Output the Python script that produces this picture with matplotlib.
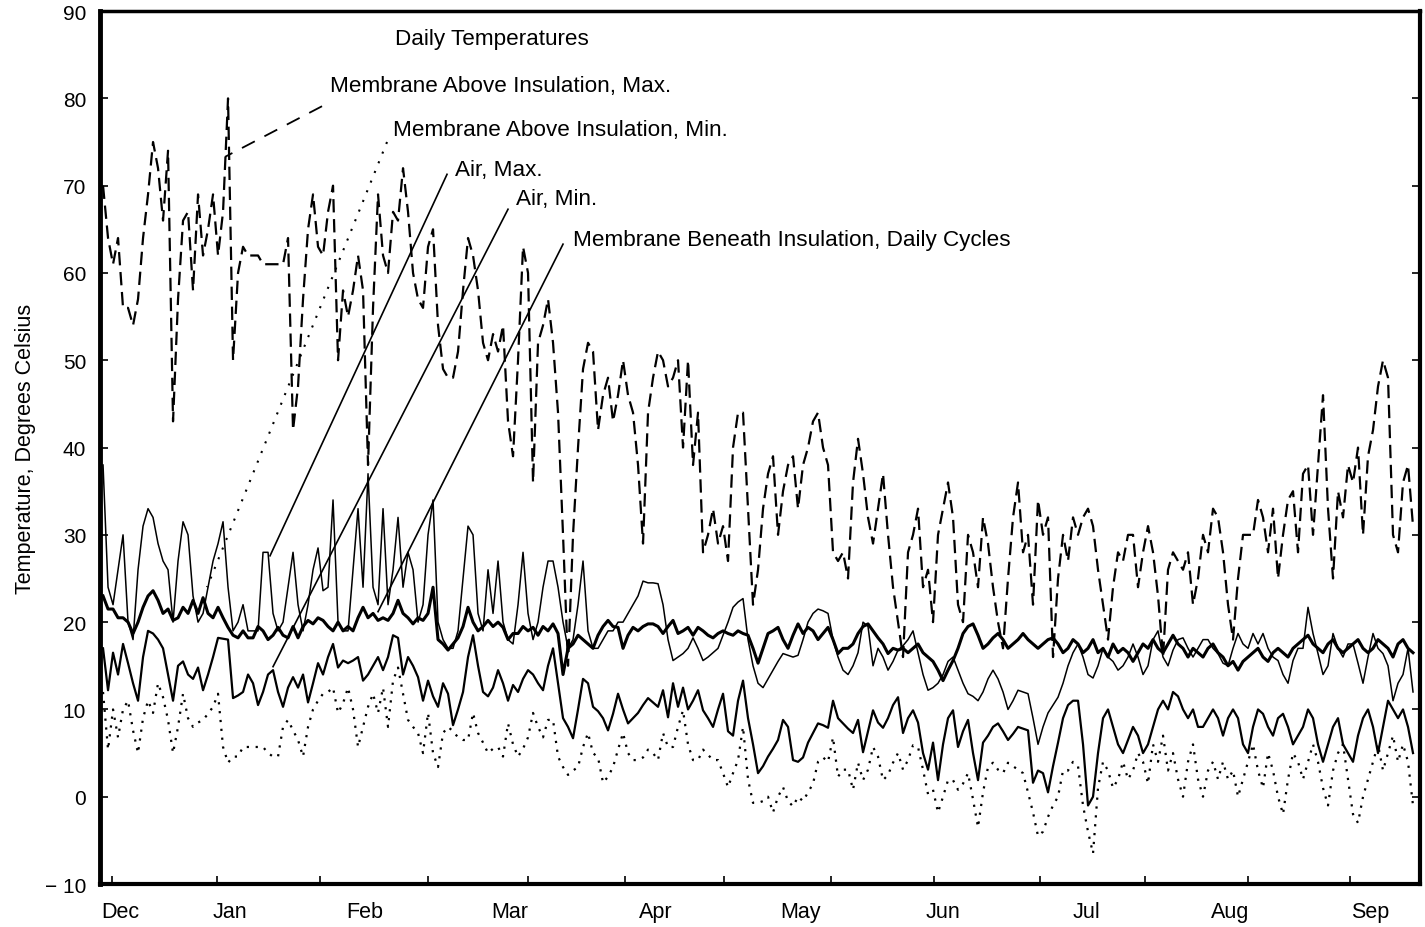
import numpy as np
import matplotlib.pyplot as plt

plt.rcParams['font.family'] = ['Liberation Sans', 'DejaVu Sans']

# daily readings, mid December to late September
roof_max = [70, 64, 61, 64, 56, 56, 54, 57, 64, 69,
            75, 72, 66, 74, 43, 57, 66, 67, 58, 69,
            62, 65, 69, 62, 67, 80, 50, 60, 63, 62,
            62, 62, 61, 61, 61, 61, 61, 64, 42, 47,
            57, 65, 69, 63, 62, 67, 70, 50, 58, 55,
            58, 62, 58, 38, 56, 69, 62, 60, 67, 66,
            72, 67, 60, 57, 56, 63, 65, 54, 49, 48,
            48, 51, 58, 64, 62, 58, 52, 50, 53, 51,
            54, 43, 39, 50, 63, 60, 36, 52, 54, 57,
            52, 44, 30, 15, 30, 40, 49, 52, 51, 42,
            46, 48, 43, 46, 50, 46, 44, 38, 29, 44,
            48, 51, 50, 47, 48, 50, 40, 50, 38, 44,
            28, 30, 33, 29, 31, 27, 40, 44, 44, 33,
            22, 26, 33, 37, 39, 30, 35, 38, 39, 33,
            38, 40, 43, 44, 40, 38, 28, 27, 28, 25,
            36, 41, 37, 32, 29, 33, 37, 30, 24, 20,
            16, 28, 30, 33, 24, 26, 20, 30, 33, 36,
            32, 22, 20, 30, 28, 24, 32, 29, 24, 20,
            17, 25, 32, 36, 28, 30, 22, 34, 30, 32,
            16, 25, 30, 27, 32, 30, 32, 33, 31, 26,
            22, 18, 24, 28, 27, 30, 30, 24, 28, 31,
            28, 23, 16, 26, 28, 27, 26, 28, 22, 25,
            30, 28, 33, 32, 28, 22, 18, 25, 30, 30,
            30, 34, 32, 28, 33, 25, 30, 34, 35, 28,
            37, 38, 30, 38, 46, 33, 25, 35, 32, 38,
            36, 40, 30, 39, 42, 47, 50, 48, 30, 28,
            36, 38, 31]

roof_min = [12, 5.4, 10, 6.8, 10, 11, 7.6, 5, 9, 11,
            9.6, 13, 11.4, 8.8, 5, 8, 11.8, 9, 8, 8.5,
            8.8, 9.5, 10.3, 11.8, 5.7, 3.9, 4.6, 4.6, 5.7, 5.7,
            5.7, 5.7, 5.7, 5, 4.6, 4.6, 8, 8.8, 7.6, 6.5,
            4.6, 8, 10, 11, 11.8, 12, 12.5, 9.6, 10.7, 12.5,
            10, 5.7, 8, 10.3, 11.8, 9.6, 12.5, 8, 13.3, 14.8,
            11.8, 8.8, 8, 7.3, 5, 9.6, 5, 3.4, 7.3, 8,
            7.5, 6.8, 6.5, 6.5, 9.6, 7.3, 6.2, 5, 5.5, 5.7,
            4.6, 8.4, 6, 4.6, 5.5, 6.8, 9.6, 8, 6.8, 8.8,
            8.8, 4.6, 3.4, 2.5, 3, 3.4, 5.7, 7.3, 5, 4.5,
            1.6, 2.3, 3.4, 5.4, 7.3, 5, 4.2, 4.2, 4.5, 5.4,
            5, 4.2, 7.3, 5.7, 5.7, 8, 9.9, 6, 4.2, 4.2,
            5.4, 4.8, 4.2, 4.2, 2.7, 1.1, 2.7, 4.2, 8, 2,
            -0.7, -0.7, -0.5, 0, -1.8, 0, 1.1, -0.5, -1.1, 0,
            -0.5, 0.5, 1.5, 4, 4.5, 4, 6.8, 2.3, 3.1, 3.1,
            0.8, 3.9, 1.9, 3.1, 5.7, 4.6, 1.9, 2.5, 3.9, 5,
            3.1, 4.2, 5.9, 5.7, 3.1, 0.3, 0.8, -1.8, 0, 1.9,
            1.9, 0.8, 1.5, 2.7, -0.3, -3.5, 0.5, 3.4, 3.9, 3.1,
            2.7, 3.9, 3.5, 3.1, 2.7, 0.5, -1.8, -4.5, -4, -2.3,
            -1, 0, 3, 3, 4, 3.5, -1, -4, -6.5, 1,
            4, 3, 1, 2, 4, 2, 3, 5, 4, 1.5,
            6, 4, 7, 3, 5, 2, 0, 4, 6, 2,
            0, 3, 4, 2, 4, 2, 3, 0, 2, 4,
            6, 3, 1, 5, 3, 0, -2, 2, 5, 4,
            2, 4, 6, 4, 1, -1, 3, 5, 6, 2,
            -2, -3, 0, 2, 4, 6, 3, 5, 7, 4,
            6, 4, -1]

air_max = [38, 24, 22, 26, 30, 20, 18, 26, 31, 33,
           32, 29, 27, 26, 20, 27, 31.5, 30, 23, 20,
           21, 24, 27, 29, 31.5, 24, 19, 20, 22, 19,
           19, 19, 28, 28, 21, 19, 20, 24, 28, 22,
           19, 22, 26, 28.5, 23.6, 24, 34, 20, 19, 19,
           26, 33, 24, 37, 24, 22, 33, 22, 26, 32,
           24, 28, 26, 20, 22, 30, 34, 20, 18, 17,
           17, 19, 25, 31, 30, 21, 19, 26, 21, 27,
           20, 18, 17.5, 22, 28, 21, 18, 20, 24, 27,
           27, 24, 20, 17, 18, 22, 27, 19, 17, 17,
           18, 19, 19, 20, 20, 21, 22, 23, 24.7, 24.5,
           24.5, 24.4, 22, 18, 15.6, 16, 16.4, 17, 18.2, 17,
           15.6, 16, 16.5, 17, 18.5, 20, 21.7, 22.3, 22.7, 18,
           15, 13, 12.5, 13.5, 14.5, 15.5, 16.4, 16.2, 16, 16.2,
           18, 20, 21, 21.5, 21.3, 21, 18, 16, 14.5, 14,
           15, 16.5, 20, 19.5, 15, 17, 16, 14.5, 15.5, 16.8,
           17.3, 18, 19, 16.5, 14, 12.2, 12.5, 13, 14, 15.5,
           16, 14.5, 13, 11.8, 11.5, 11, 12, 13.5, 14.5, 13.5,
           12, 10, 11, 12.2, 12, 11.8, 9, 6, 8, 9.6,
           10.5, 11.4, 13, 15, 16.5, 17.5, 16, 14, 13.6, 15,
           17, 16, 15.5, 14.5, 15, 16, 17.5, 16, 14, 15,
           18, 19, 16, 15, 16.8, 18, 18.2, 17, 16, 17,
           18, 18, 17, 16.4, 15.3, 15, 17, 18.7, 17.5, 17,
           18.7, 17.5, 18.7, 17, 16, 15.6, 14, 13, 15.6, 17,
           17, 21.7, 18.7, 16.4, 14, 15, 18.7, 17, 16, 17.5,
           17.5, 15.3, 13, 16, 18.7, 17, 16.4, 15, 11, 13,
           14, 17, 12]

air_min = [17, 12.2, 16.5, 14, 17.5, 15.3, 13, 11, 16, 19,
           18.7, 18, 17, 14, 11, 15, 15.5, 14, 13.5, 14.8,
           12.2, 14, 16, 18.2, 18.1, 18, 11.3, 11.6, 12, 14,
           13, 10.5, 12, 14, 14.5, 12, 10.3, 12.5, 13.7, 12.5,
           14, 10.8, 13, 15.3, 14, 16, 17.5, 14.8, 15.6, 15.3,
           15.6, 16, 13.3, 14, 15, 16, 14.5, 16, 18.5, 18.2,
           14, 16, 15, 13.7, 11, 13.3, 11.5, 10.3, 13, 11.8,
           8.2, 10, 12, 16, 18.5, 15, 12, 11.5, 12.5, 14.5,
           13, 11, 12.8, 12, 13.5, 14.5, 14, 13, 12.2, 15,
           17, 13, 9, 8, 6.7, 10, 13.5, 13, 10.3, 9.8,
           9, 7.6, 9.5, 11.8, 10, 8.4, 9, 9.6, 10.5, 11.3,
           10.8, 10.3, 12.2, 9.1, 13, 10.3, 12.5, 10, 11, 12.2,
           9.9, 9, 8, 10, 11.8, 7.5, 7, 11, 13.3, 9,
           6, 2.7, 3.5, 4.6, 5.5, 6.5, 8.8, 8, 4.2, 4,
           4.5, 6.2, 7.3, 8.4, 8.2, 7.9, 11, 9, 8.4, 7.8,
           7.3, 8.8, 5.1, 7.5, 9.9, 8.5, 7.9, 9, 10.5, 11.4,
           7.3, 9, 9.9, 8.5, 5, 3.1, 6.2, 1.9, 6, 9,
           9.9, 5.7, 7.5, 8.8, 5, 1.9, 6.2, 7, 8, 8.4,
           7.5, 6.5, 7.2, 8, 7.8, 7.6, 1.6, 3, 2.7, 0.5,
           3.5, 6.2, 9, 10.5, 11, 11, 6, -1, 0, 5,
           9, 10, 8, 6, 5, 6.5, 8, 7, 5, 6,
           8, 10, 11, 10, 12, 11.5, 10, 9, 10, 8,
           8, 9, 10, 9, 7, 9, 10, 9, 6, 5,
           8, 10, 9.5, 8, 7, 9, 9.5, 8, 6, 7,
           8, 10, 9, 6, 4, 6, 8, 9, 6, 5,
           4, 7, 9, 10, 8, 5, 8, 11, 10, 9,
           10, 8, 5]

beneath = [23, 21.5, 21.5, 20.5, 20.5, 20, 18.7, 20, 21.7, 23,
           23.6, 22.5, 21, 21.5, 20.2, 20.5, 21.7, 21, 22.5, 21,
           22.8, 21, 20.5, 21.7, 20.5, 19.4, 18.5, 18.2, 19, 18.2,
           18.2, 19.5, 19, 18, 18.5, 19.4, 18.5, 18.2, 19.5, 18.2,
           19.5, 20.2, 19.8, 20.5, 20.2, 19.5, 19, 20, 19, 19.5,
           19, 20.5, 21.7, 20.5, 21, 20.2, 20.5, 20.2, 21, 22.5,
           21, 20.5, 19.8, 20.5, 20.2, 21, 24, 18, 17.5, 16.8,
           17.5, 18.2, 19.5, 21.7, 20, 19, 19.5, 20.2, 19.5, 20,
           19.4, 18, 18.7, 18.7, 19.5, 19, 19.4, 18.5, 19.5, 19,
           19.8, 18.7, 14, 17, 17.5, 18.5, 18, 17.5, 17, 18.5,
           19.5, 20.2, 19.5, 19.4, 17, 18.5, 19.4, 19, 19.5, 19.8,
           19.8, 19.5, 18.7, 19.5, 20.2, 18.7, 19, 19.4, 18.5, 19.4,
           19, 18.5, 18.2, 18.7, 19, 18.7, 18.5, 19, 18.7, 18.5,
           17, 15.3, 17, 18.7, 19, 19.4, 18, 17, 18.5, 19.8,
           18.7, 19.4, 19, 18, 18.7, 19.4, 18, 16.4, 17, 17,
           17.5, 18.7, 19.5, 19.8, 19, 18.2, 17.5, 16.4, 17, 16.8,
           17, 16.5, 17, 17.5, 16.5, 16, 15.5, 14.5, 13.3, 14.5,
           15.6, 17, 18.7, 19.5, 19.8, 18.5, 17, 17.5, 18.2, 18.7,
           18, 17, 17.5, 18, 18.7, 18, 17.5, 17, 17.5, 18,
           18.2, 17.5, 16.5, 17, 18, 17.5, 16.5, 17, 18, 16.5,
           17, 16, 17.5, 16.5, 17, 16.5, 15.5, 16.5, 17.5, 17,
           18, 17, 16.5, 17.5, 18.5, 17.5, 17, 16, 17, 16.5,
           16, 17, 17.5, 16.5, 16, 15, 15.5, 14.5, 15.5, 16,
           16.5, 17, 16, 15.5, 16.5, 17, 16.5, 16, 17, 17.5,
           18, 18.5, 17.5, 17, 16.5, 17.5, 18, 17, 16.5, 17,
           17.5, 18, 17, 16.5, 17, 18, 17.5, 17, 16, 17.5,
           18, 17, 16.5]

day = np.arange(len(roof_max))

months = ['Dec', 'Jan', 'Feb', 'Mar', 'Apr', 'May', 'Jun', 'Jul', 'Aug', 'Sep']
month_pos = [3.4, 25.4, 52.4, 81.4, 110.6, 139.4, 168, 196.6, 225.4, 253.4]
tick_pos = [1.8, 22.8, 43.4, 65, 85, 104.4, 124.2, 145.6, 166.2, 187.4, 208.4, 229, 249.4]

fig = plt.figure(figsize=(14.25, 9.28), dpi=100)
ax = fig.add_axes([0.0702, 0.0463, 0.9263, 0.9407])

ax.plot(day, roof_max, color='black', lw=1.6, dashes=(6, 3))
ax.plot(day, roof_min, color='black', lw=1.6, linestyle=(0, (1, 3)))
ax.plot(day, air_max, color='black', lw=1.1)
ax.plot(day, air_min, color='black', lw=1.6)
ax.plot(day, beneath, color='black', lw=2.2)

# labels with leader lines
fs = 16.2
ax.text(58.4, 86.8, 'Daily Temperatures', fontsize=fs, va='center')
ax.text(45.4, 81.5, 'Membrane Above Insulation, Max.', fontsize=fs, va='center')
ax.plot([43.8, 24.4], [79.1, 73.3], color='black', lw=1.3, dashes=(8, 6))
ax.text(58, 76.4, 'Membrane Above Insulation, Min.', fontsize=fs, va='center')
ax.plot([56.8, 20.8], [75.0, 24.0], color='black', lw=1.5, linestyle=(0, (1, 4)))
ax.text(70.4, 71.8, 'Air, Max.', fontsize=fs, va='center')
ax.plot([68.8, 33.4], [71.3, 27.6], color='black', lw=1.2)
ax.text(82.6, 68.5, 'Air, Min.', fontsize=fs, va='center')
ax.plot([81, 34], [67.3, 14.9], color='black', lw=1.2)
ax.text(94, 63.8, 'Membrane Beneath Insulation, Daily Cycles', fontsize=fs, va='center')
ax.plot([92, 55], [63.3, 21.2], color='black', lw=1.2)

ax.set_xlim(-0.6, 263.4)
ax.set_ylim(-10, 90)
ax.set_yticks(range(-10, 91, 10))
ax.set_yticklabels(['\u2212 10'] + [str(v) for v in range(0, 91, 10)], fontsize=15)
ax.tick_params(axis='y', direction='in', length=6, width=1.2, right=True, pad=10)

ax.set_xticks(month_pos)
ax.set_xticklabels(months, fontsize=15.5)
ax.set_xticks(tick_pos, minor=True)
ax.tick_params(axis='x', which='major', length=0, pad=12)
ax.tick_params(axis='x', which='minor', direction='in', length=6, width=1.2)

ax.set_ylabel('Temperature, Degrees Celsius', fontsize=15.5, labelpad=6)

ax.spines['left'].set_linewidth(3.5)
ax.spines['bottom'].set_linewidth(3)
ax.spines['top'].set_linewidth(2.5)
ax.spines['right'].set_linewidth(3)

plt.savefig('out.png', dpi=100)
